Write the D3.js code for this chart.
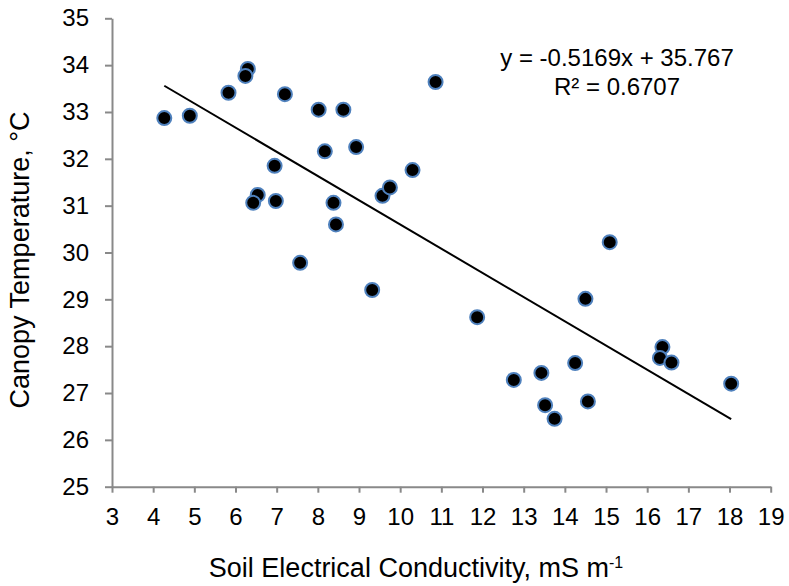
<!DOCTYPE html>
<html>
<head>
<meta charset="utf-8">
<script src="https://cdn.jsdelivr.net/npm/d3@7"></script>
<style>
  body { margin: 0; background: #fff; }
  text { font-family: Arial, "Liberation Sans", sans-serif; fill: #000; }
</style>
</head>
<body>
<svg id="chart" width="789" height="586"></svg>
<script>
// soil EC (mS m-1) and canopy temperature (°C)
var ecValues = [4.27, 4.89, 5.83, 6.30, 6.24, 7.20, 8.02, 8.62, 8.17, 8.93,
  6.95, 6.54, 6.43, 6.98, 8.38, 8.44, 9.57, 9.75, 7.57, 9.32,
  10.86, 10.30, 15.09, 14.50, 11.87, 12.76, 13.43, 13.52, 13.75, 14.25,
  14.56, 16.37, 16.31, 16.59, 18.04];
var tempValues = [32.87, 32.92, 33.41, 33.92, 33.77, 33.38, 33.05, 33.05, 32.16, 32.25,
  31.85, 31.23, 31.06, 31.10, 31.06, 30.60, 31.21, 31.39, 29.78, 29.20,
  33.64, 31.76, 30.22, 29.01, 28.62, 27.28, 27.43, 26.74, 26.45, 27.64,
  26.82, 27.98, 27.75, 27.65, 27.20];
var xTicks = d3.range(3, 20);
var yTicks = d3.range(25, 36);
var slope = -0.5169, intercept = 35.767, r2 = 0.6707;

var svg = d3.select("#chart");
var x = d3.scaleLinear().domain([3, 19]).range([112, 770.7]);
var y = d3.scaleLinear().domain([25, 35]).range([486.7, 18.3]);
var axisColor = "#898989";

///////////////////////////////////////////////////////////////////////////////
// Axes

var xAxis = svg.append("g")
  .attr("transform", "translate(0," + y(25) + ")")
  .call(d3.axisBottom(x).tickValues(xTicks).tickSize(6).tickPadding(15).tickSizeOuter(0));
var yAxis = svg.append("g")
  .attr("transform", "translate(" + x(3) + ",0)")
  .call(d3.axisLeft(y).tickValues(yTicks).tickSize(7).tickPadding(16).tickSizeOuter(0));

[xAxis, yAxis].forEach(function (g) {
  g.select(".domain").attr("stroke", axisColor).attr("stroke-width", 2);
  g.selectAll(".tick line").attr("stroke", axisColor).attr("stroke-width", 2);
  g.selectAll(".tick text").style("font-size", "24px")
    .style("font-family", "Arial, 'Liberation Sans', sans-serif").attr("fill", "#000");
});

// Axis titles
svg.append("text")
  .attr("transform", "translate(29,260) rotate(-90)")
  .attr("text-anchor", "middle")
  .style("font-size", "27px")
  .text("Canopy Temperature, °C");

var xTitle = svg.append("text")
  .attr("x", 416).attr("y", 577)
  .attr("text-anchor", "middle")
  .style("font-size", "27px");
xTitle.append("tspan").text("Soil Electrical Conductivity, mS m");
xTitle.append("tspan").attr("dy", -9).style("font-size", "16px").text("-1");

///////////////////////////////////////////////////////////////////////////////
// Trendline and points

var xMin = d3.min(ecValues), xMax = d3.max(ecValues);
svg.append("line")
  .attr("x1", x(xMin)).attr("y1", y(slope * xMin + intercept))
  .attr("x2", x(xMax)).attr("y2", y(slope * xMax + intercept))
  .attr("stroke", "#000").attr("stroke-width", 2);

svg.append("g").selectAll("circle")
  .data(ecValues.map(function (d, i) { return [d, tempValues[i]]; }))
  .enter().append("circle")
  .attr("cx", function (d) { return x(d[0]); })
  .attr("cy", function (d) { return y(d[1]); })
  .attr("r", 7)
  .attr("fill", "#000")
  .attr("stroke", "#4f81bd")
  .attr("stroke-width", 2);

// Regression label
var eq = svg.append("text")
  .attr("text-anchor", "middle")
  .style("font-size", "24px");
eq.append("tspan").attr("x", 617).attr("y", 66)
  .text("y = " + slope + "x + " + intercept);
eq.append("tspan").attr("x", 617).attr("y", 94.5)
  .text("R² = " + r2);
</script>
</body>
</html>
